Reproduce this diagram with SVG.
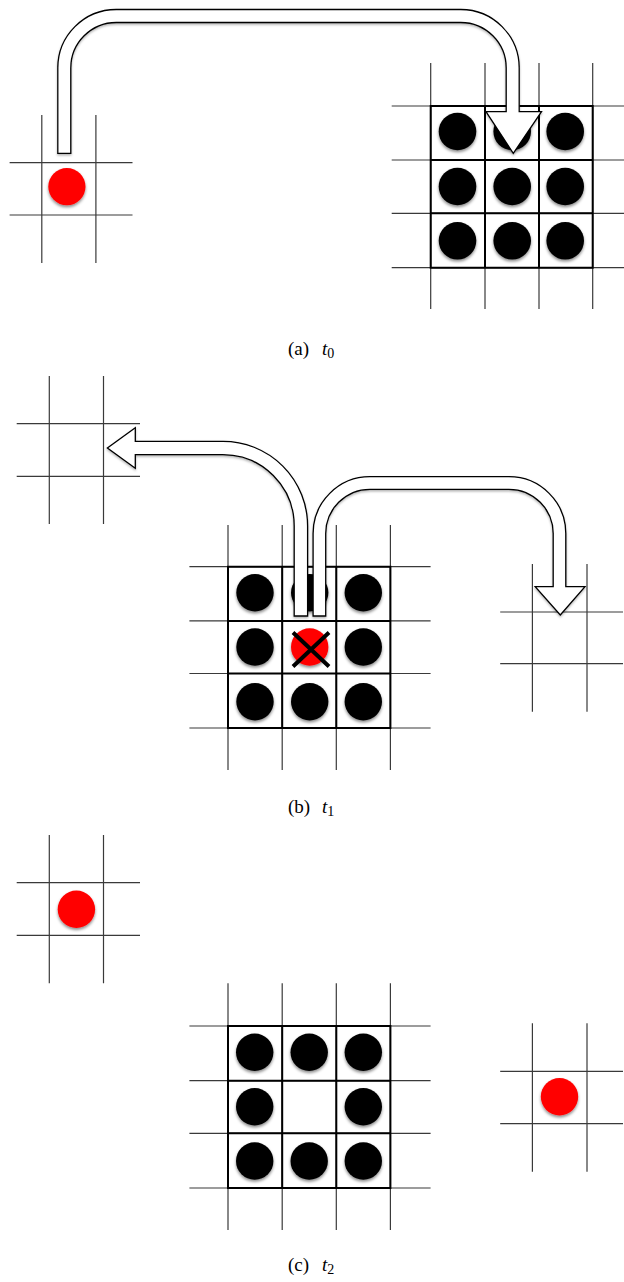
<svg xmlns="http://www.w3.org/2000/svg" width="624" height="1282" viewBox="0 0 624 1282">
<style>
.thin{stroke:#3a3a3a;stroke-width:1.2;fill:none}
.thick{stroke:#000;stroke-width:2;fill:none}
.blk{fill:#000;filter:url(#sh)}
.red{fill:#ff0000;filter:url(#sh)}
.arrow{fill:#fff;stroke:#000;stroke-width:1.3;stroke-linejoin:miter;filter:url(#ash)}
.cap{font-family:"Liberation Serif","DejaVu Serif",serif;font-size:19px;fill:#000}
</style>
<defs>
<filter id="sh" x="-30%" y="-30%" width="160%" height="170%">
<feDropShadow dx="0" dy="2" stdDeviation="1.4" flood-color="#000" flood-opacity="0.45"/>
</filter>
<filter id="ash" x="-10%" y="-10%" width="120%" height="130%">
<feDropShadow dx="0" dy="1.5" stdDeviation="1" flood-color="#000" flood-opacity="0.3"/>
</filter>
</defs>

<!-- Panel (a) -->
<g id="a-left-grid">
<path class="thin" d="M41.8 115V263M95.9 115V263M9.6 162.7H132.5M9.6 215H132.5"/>
<circle class="red" cx="66.9" cy="186.7" r="18.6"/>
</g>
<g id="a-right-grid">
<path class="thin" d="M430.7 63V309M485 63V309M539 63V309M592.7 63V309M391.7 106H624M391.7 160H624M391.7 213.3H624M391.7 267.7H624"/>
<path class="thick" d="M430.7 106H592.7V267.7H430.7ZM485 106V267.7M539 106V267.7M430.7 160H592.7M430.7 213.3H592.7"/>
<circle class="blk" cx="457.5" cy="131.5" r="18.8"/>
<circle class="blk" cx="512.2" cy="131.5" r="18.8"/>
<circle class="blk" cx="565.2" cy="131.5" r="18.8"/>
<circle class="blk" cx="457.5" cy="186.5" r="18.8"/>
<circle class="blk" cx="512.2" cy="186.5" r="18.8"/>
<circle class="blk" cx="565.2" cy="186.5" r="18.8"/>
<circle class="blk" cx="457.5" cy="240.8" r="18.8"/>
<circle class="blk" cx="512.2" cy="240.8" r="18.8"/>
<circle class="blk" cx="565.2" cy="240.8" r="18.8"/>
</g>

<!-- Panel (b) -->
<g id="b-left-grid">
<path class="thin" d="M49.3 376V524M103.5 376V524M16.7 423.7H140M16.7 476.3H140"/>
</g>
<g id="b-center-grid">
<path class="thin" d="M228 525V770M282.2 525V770M336.3 525V770M390.4 525V770M189.4 566.7H430.6M189.4 620.9H430.6M189.4 673.5H430.6M189.4 728H430.6"/>
<path class="thick" d="M228 566.7H390.4V728H228ZM282.2 566.7V728M336.3 566.7V728M228 620.9H390.4M228 673.5H390.4"/>
<circle class="blk" cx="255" cy="592.7" r="18.7"/>
<circle class="blk" cx="309.7" cy="592.7" r="18.7"/>
<circle class="blk" cx="363.3" cy="592.7" r="18.7"/>
<circle class="blk" cx="255" cy="647" r="18.7"/>
<circle class="red" cx="309.7" cy="647" r="18.7"/>
<circle class="blk" cx="363.3" cy="647" r="18.7"/>
<circle class="blk" cx="255" cy="701.7" r="18.7"/>
<circle class="blk" cx="309.7" cy="701.7" r="18.7"/>
<circle class="blk" cx="363.3" cy="701.7" r="18.7"/>
<path d="M293 632.5L329 666.5M329 632.5L293 666.5" stroke="#000" stroke-width="4" fill="none"/>
</g>
<g id="b-right-grid">
<path class="thin" d="M532.4 564V711.7M587 564V711.7M500.2 612H623M500.2 663.7H623"/>
</g>

<!-- Panel (c) -->
<g id="c-left-grid">
<path class="thin" d="M49.3 835V983.3M103.5 835V983.3M16.7 882.7H140M16.7 935.3H140"/>
<circle class="red" cx="76.4" cy="909.3" r="18.7"/>
</g>
<g id="c-center-grid">
<path class="thin" d="M228 983.3V1230M282.2 983.3V1230M336.3 983.3V1230M390.4 983.3V1230M189.4 1026H430.6M189.4 1080.7H430.6M189.4 1133.3H430.6M189.4 1188H430.6"/>
<path class="thick" d="M228 1026H390.4V1188H228ZM282.2 1026V1188M336.3 1026V1188M228 1080.7H390.4M228 1133.3H390.4"/>
<circle class="blk" cx="254.7" cy="1052.3" r="18.7"/>
<circle class="blk" cx="309.2" cy="1052.3" r="18.7"/>
<circle class="blk" cx="363.3" cy="1052.3" r="18.7"/>
<circle class="blk" cx="254.7" cy="1106.7" r="18.7"/>
<circle class="blk" cx="363.3" cy="1106.7" r="18.7"/>
<circle class="blk" cx="254.7" cy="1161" r="18.7"/>
<circle class="blk" cx="309.2" cy="1161" r="18.7"/>
<circle class="blk" cx="363.3" cy="1161" r="18.7"/>
</g>
<g id="c-right-grid">
<path class="thin" d="M532.4 1023.3V1171.7M587 1023.3V1171.7M500.2 1071.3H623M500.2 1123.7H623"/>
<circle class="red" cx="559.5" cy="1096.7" r="18.7"/>
</g>

<!-- Connectors -->
<g id="connectors">
<path class="arrow" d="M57.8 153.3L57.8 68A58.5 58.5 0 0 1 116.3 9.5L460.7 9.5A58.5 58.5 0 0 1 519.2 68L519.2 111.7L541.5 111.7L513.3 153.3L486 111.7L506.2 111.7L506.2 68A45.5 45.5 0 0 0 460.7 22.5L116.3 22.5A45.5 45.5 0 0 0 70.8 68L70.8 153.3Z"/>
<path class="arrow" d="M294.2 616L294.2 526A71.3 71.3 0 0 0 222.9 454.7L135.3 454.7L135.3 468.3L107.4 448L135.3 427.7L135.3 441.3L222.9 441.3A84.7 84.7 0 0 1 307.6 526L307.6 616Z"/>
<path class="arrow" d="M313.1 616L313.1 533.6A56.9 56.9 0 0 1 370 476.7L508.9 476.7A56.9 56.9 0 0 1 565.8 533.6L565.8 586.7L585 586.7L560.3 615L535.2 586.7L553.2 586.7L553.2 533.6A44.3 44.3 0 0 0 508.9 489.3L370 489.3A44.3 44.3 0 0 0 325.7 533.6L325.7 616Z"/>
</g>

<!-- Captions -->
<g id="captions">
<text class="cap" x="288" y="355">(a)<tspan x="322" font-style="italic">t</tspan><tspan font-size="14" dy="3">0</tspan></text>
<text class="cap" x="288" y="813">(b)<tspan x="322" font-style="italic">t</tspan><tspan font-size="14" dy="3">1</tspan></text>
<text class="cap" x="288" y="1271">(c)<tspan x="322" font-style="italic">t</tspan><tspan font-size="14" dy="3">2</tspan></text>
</g>
</svg>
